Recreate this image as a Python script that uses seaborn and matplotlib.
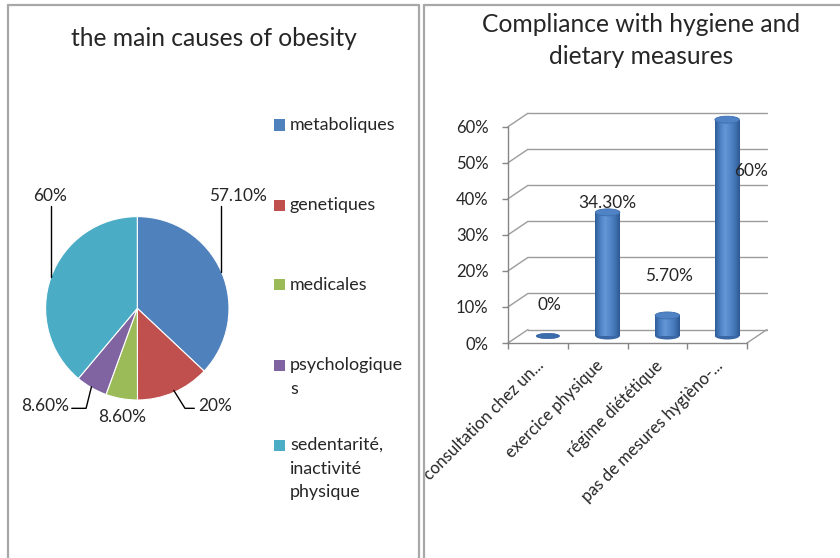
import numpy as np
import matplotlib
matplotlib.use("Agg")
import matplotlib.pyplot as plt
import seaborn as sns
from matplotlib.patches import Rectangle, Ellipse
from matplotlib.lines import Line2D
from matplotlib.transforms import ScaledTranslation
from matplotlib.colors import LinearSegmentedColormap

# ---------------- data ----------------
pie_title = "the main causes of obesity"
pie_categories = ["metaboliques", "genetiques", "medicales", "psychologique\ns",
                  "sedentarité,\ninactivité\nphysique"]
pie_values = [57.1, 20, 8.6, 8.6, 60]
pie_labels = ["57.10%", "20%", "8.60%", "8.60%", "60%"]
pie_colors = ["#4F81BD", "#C0504D", "#9BBB59", "#8064A2", "#4BACC6"]

bar_title = "Compliance with hygiene and\ndietary measures"
bar_categories = ["consultation chez un...", "exercice physique",
                  "régime diététique", "pas de mesures hygièno-..."]
bar_values = [0, 34.3, 5.7, 60]
bar_labels = ["0%", "34.30%", "5.70%", "60%"]
y_ticks = [0, 10, 20, 30, 40, 50, 60]
y_tick_labels = ["0%", "10%", "20%", "30%", "40%", "50%", "60%"]

# ---------------- style ----------------
sns.set_style("white")
plt.rcParams["font.family"] = ["Lato", "DejaVu Sans"]
W, H = 840, 558
FS = 12.4
FS_TICK = 12.0
FS_CAT = 12.0
FS_LEG = 12.9
FS_TITLE = 17.7
AX_GRAY = "#868686"
GRID_GRAY = "#9C9C9C"
BORDER = "#A8A8A8"

fig = plt.figure(figsize=(W / 100, H / 100), dpi=100)
fig.patch.set_facecolor("white")


def box(left, top, width, height):
    return [left / W, 1 - (top + height) / H, width / W, height / H]


def fline(xs, ys, **kw):
    fig.add_artist(Line2D([x / W for x in xs], [1 - y / H for y in ys],
                          transform=fig.transFigure, **kw))


# panel borders
fline([8, 418.5], [5, 5], color=BORDER, lw=1.6)
fline([8, 8], [5, 560], color=BORDER, lw=1.6)
fline([418.5, 418.5], [5, 560], color=BORDER, lw=1.6)
fline([423.5, 842], [5, 5], color=BORDER, lw=1.6)
fline([423.5, 423.5], [5, 560], color=BORDER, lw=1.6)

# ---------------- pie ----------------
R = 91.7
cx, cy = 137.3, 308.3
ax1 = fig.add_axes(box(cx - 130, cy - 130, 260, 260))
wedges, _ = ax1.pie(pie_values, colors=pie_colors, startangle=90, counterclock=False,
                    radius=1, wedgeprops=dict(edgecolor="white", linewidth=0.8))
lim = 130 / R
ax1.set_xlim(-lim, lim)
ax1.set_ylim(-lim, lim)
ax1.set_aspect("equal")
ax1.axis("off")

# label layout (pixel offsets from the wedge's outer mid point; +y is down)
pie_label_layout = [
    dict(path=[(0, 0), (0, -66)], text=(16.5, -75.5)),
    dict(path=[(0, -2), (11.2, 15.9), (20.5, 15.9)], text=(41.2, 13.6)),
    dict(path=[], text=(0.3, 18.1)),
    dict(path=[(0, -1), (-5.4, 20.6), (-19.7, 20.6)], text=(-45.9, 18.3)),
    dict(path=[(0, 0), (0, -71)], text=(-1.1, -80.5)),
]
for w, lab, lay in zip(wedges, pie_labels, pie_label_layout):
    mid = np.deg2rad((w.theta1 + w.theta2) / 2)
    ex, ey = np.cos(mid), np.sin(mid)
    if lay["path"]:
        ax1.plot([ex + dx / R for dx, dy in lay["path"]],
                 [ey - dy / R for dx, dy in lay["path"]],
                 color="black", lw=1.0, clip_on=False)
    tx, ty = lay["text"]
    ax1.text(ex + tx / R, ey - ty / R, lab, ha="center", va="center",
             fontsize=FS, clip_on=False)

fig.text(214 / W, 1 - 38 / H, pie_title, ha="center", va="center", fontsize=FS_TITLE)

# legend
leg_y = [125, 205, 285, 365, 445]
for yy, cat, col in zip(leg_y, pie_categories, pie_colors):
    fig.add_artist(Rectangle((274 / W, 1 - (yy + 5.5) / H), 11 / W, 11 / H,
                             facecolor=col, edgecolor="none", transform=fig.transFigure))
    for j, line in enumerate(cat.split("\n")):
        fig.text(290 / W, 1 - (yy + j * 23.5) / H, line, ha="left", va="center",
                 fontsize=FS_LEG)

# ---------------- 3-D-looking column chart ----------------
pxy = 3.605  # px per percent
ymax = 66
ax2 = fig.add_axes(box(508, 343 - ymax * pxy, 239, ymax * pxy))
sns.barplot(x=bar_categories, y=bar_values, ax=ax2, color="#4A7EC0",
            width=0.41, saturation=1, edgecolor="none")
ax2.set_xlim(-0.5, 3.5)
ax2.set_ylim(0, ymax)
pxx = 239 / 4
dx, dy = 20 / pxx, 13.5 / pxy

# back wall / floor
for y in y_ticks:
    ax2.plot([-0.5 + dx, 3.5 + dx], [y + dy, y + dy], color=GRID_GRAY, lw=1,
             clip_on=False, zorder=0.5)
    ax2.plot([-0.5, -0.5 + dx], [y, y + dy], color=GRID_GRAY, lw=1,
             clip_on=False, zorder=0.5)
ax2.plot([3.5, 3.5 + dx], [0, dy], color=GRID_GRAY, lw=1, clip_on=False, zorder=0.5)

off = ScaledTranslation(10 / 100, 7 / 100, fig.dpi_scale_trans)
tr = ax2.transData + off
cyl = LinearSegmentedColormap.from_list(
    "cyl", ["#2f5c98", "#4a7fc2", "#6497d6", "#5588cb", "#4275b6", "#2e5892"])
grad = np.linspace(0, 1, 64).reshape(1, -1)
eh = 7 / pxy
label_offsets_px = [(1.6, -31), (-0.7, -9), (1.6, -39.5), (23.5, 51)]
for bar, val, lab, (ox, oy) in zip(ax2.containers[0], bar_values, bar_labels,
                                   label_offsets_px):
    x0, w, h = bar.get_x(), bar.get_width(), bar.get_height()
    xc = x0 + w / 2
    bar.set_transform(tr)
    bar.set_zorder(3)
    bar.set_clip_on(False)
    if h > 0:
        ax2.add_patch(Ellipse((xc, 0), w, eh, transform=tr, facecolor="#3a68a6",
                              edgecolor="none", zorder=2.9, clip_on=False))
        im = ax2.imshow(grad, extent=[x0, x0 + w, 0, h], transform=tr, cmap=cyl,
                        aspect="auto", zorder=3.1, interpolation="bicubic")
        im.set_clip_path(bar)
        ax2.add_patch(Ellipse((xc, h), w, eh, transform=tr, facecolor="#4f83c6",
                              edgecolor="#3d6eae", lw=0.6, zorder=3.2, clip_on=False))
    else:
        ax2.add_patch(Ellipse((xc, 0), w * 0.95, eh * 0.75, transform=tr,
                              facecolor="#3b6cad", edgecolor="#2f5c98", lw=0.5,
                              zorder=3.2, clip_on=False))
    ax2.annotate(lab, xy=(xc, h), xycoords=tr, xytext=(ox * 0.72, -oy * 0.72),
                 textcoords="offset points", ha="center", va="center", fontsize=FS,
                 zorder=5)

ax2.set_xlim(-0.5, 3.5)
ax2.set_ylim(0, ymax)
ax2.set_xlabel("")
ax2.set_ylabel("")
ax2.set_yticks(y_ticks, y_tick_labels)
ax2.set_xticks(range(len(bar_categories)), bar_categories)
ax2.set_xticks(np.arange(-0.5, len(bar_categories), 1), minor=True)
ax2.tick_params(axis="y", left=True, length=4, width=1, color=AX_GRAY, pad=10,
                labelsize=FS_TICK)
ax2.tick_params(axis="x", which="major", bottom=True, length=0, pad=14.5,
                labelsize=FS_CAT)
ax2.tick_params(axis="x", which="minor", bottom=True, length=4, width=1, color=AX_GRAY)
lbl_shift = ScaledTranslation(3 / 100, 0, fig.dpi_scale_trans)
for lbl in ax2.get_xticklabels():
    lbl.set_rotation(45)
    lbl.set_ha("right")
    lbl.set_va("center")
    lbl.set_rotation_mode("anchor")
    lbl.set_transform(lbl.get_transform() + lbl_shift)
for s in ["top", "right"]:
    ax2.spines[s].set_visible(False)
ax2.spines["left"].set_bounds(0, 60)
for s in ["left", "bottom"]:
    ax2.spines[s].set_color(AX_GRAY)
    ax2.spines[s].set_linewidth(1)
ax2.patch.set_alpha(0)

t1, t2 = bar_title.split("\n")
fig.text(641.5 / W, 1 - 25 / H, t1, ha="center", va="center", fontsize=FS_TITLE)
fig.text(641.5 / W, 1 - 57 / H, t2, ha="center", va="center", fontsize=FS_TITLE)

fig.savefig("out.png", dpi=100, facecolor="white")
